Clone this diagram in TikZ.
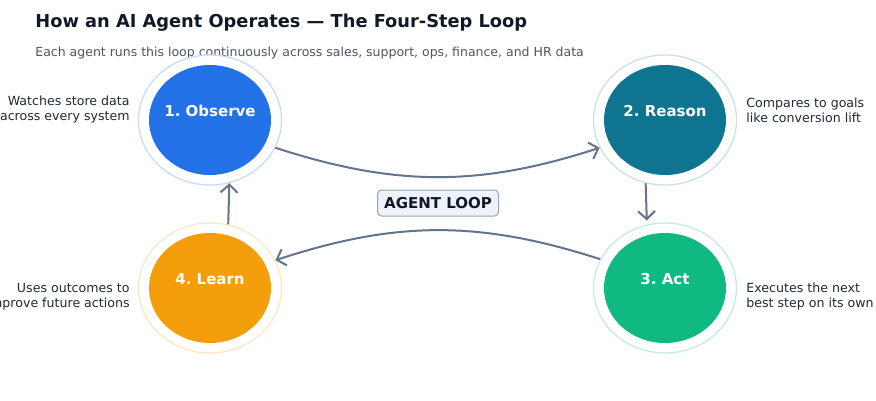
\documentclass[tikz,border=0pt]{standalone}
\usepackage{fontspec}
\setmainfont{DejaVu Sans}
\usetikzlibrary{shapes.geometric,arrows.meta,positioning}
\definecolor{obsblue}{HTML}{2271E6}
\definecolor{reasteal}{HTML}{0E7490}
\definecolor{actgreen}{HTML}{10B981}
\definecolor{learnamber}{HTML}{F59E0B}
\definecolor{arrowgray}{HTML}{64748B}
\definecolor{titleink}{HTML}{111827}
\definecolor{subink}{HTML}{4B5563}
\definecolor{noteink}{HTML}{1F2937}
\definecolor{boxfill}{HTML}{EEF2FA}
\definecolor{boxline}{HTML}{94A3B8}
\frenchspacing

\begin{document}
\begin{tikzpicture}[
      x=1pt, y=1pt,
      thick,
      core/.style={ellipse, minimum width=122pt, minimum height=110pt, inner sep=0pt},
      ring/.style={ellipse, draw, fill=white, line width=1.3pt, minimum width=143pt, minimum height=130pt, inner sep=0pt},
      steplabel/.style={font=\fontsize{15}{17}\selectfont\bfseries, text=white},
      note/.style={font=\fontsize{12.6}{15}\selectfont, text=noteink, inner sep=0pt},
      loopbox/.style={rectangle, draw=boxline, fill=boxfill, line width=1pt, rounded corners=4pt, minimum width=121pt, minimum height=26pt, inner sep=2pt, font=\fontsize{15}{17}\selectfont\bfseries, text=titleink},
      line/.style={draw=arrowgray, line width=2pt, -{Straight Barb[length=8pt,width=17pt]}}
    ]
    \useasboundingbox (0,0) rectangle (876,400);
    % Title
    \node [anchor=west, inner sep=0pt, font=\fontsize{17.8}{21}\selectfont\bfseries, text=titleink] (title) at (35,377) {How an AI Agent Operates — The Four-Step Loop};
    \node [anchor=west, inner sep=0pt, font=\fontsize{12.5}{15}\selectfont, text=subink] (subtitle) at (35,347) {Each agent runs this loop continuously across sales, support, ops, finance, and HR data};
    % Steps
    \node [ring, draw=obsblue!25] (obsring) at (210,280) {};
    \node [core, fill=obsblue] (observe) at (obsring.center) {};
    \node [ring, draw=reasteal!22] (reasring) at (665,280) {};
    \node [core, fill=reasteal] (reason) at (reasring.center) {};
    \node [ring, draw=actgreen!25] (actring) at (665,112) {};
    \node [core, fill=actgreen] (act) at (actring.center) {};
    \node [ring, draw=learnamber!25] (learnring) at (210,112) {};
    \node [core, fill=learnamber] (learn) at (learnring.center) {};
    \node [steplabel] at ([yshift=9pt]observe.center) {1. Observe};
    \node [steplabel] at ([yshift=9pt]reason.center) {2. Reason};
    \node [steplabel] at ([yshift=9pt]act.center) {3. Act};
    \node [steplabel] at ([yshift=9pt]learn.center) {4. Learn};
    % Notes
    \node [note, anchor=east, align=right] (obsnote) at (130,290) {Watches store data\\across every system};
    \node [note, anchor=west, align=left] (reasnote) at (746,290) {Compares to goals\\like conversion lift};
    \node [note, anchor=west, align=left] (actnote) at (746,103) {Executes the next\\best step on its own};
    \node [note, anchor=east, align=right] (learnnote) at (130,103) {Uses outcomes to\\improve future actions};
    \node [loopbox] (loop) at (438,197) {AGENT LOOP};
    % Lines
    \path [line] (obsring.-23) to[bend right=18] (reasring.203);
    \path [line] (reasring.253) -- ([yshift=4pt]actring.106);
    \path [line] (actring.156) to[bend right=18] (learnring.23);
    \path [line] (learnring.74) -- (obsring.-73);
  \end{tikzpicture}
\end{document}
